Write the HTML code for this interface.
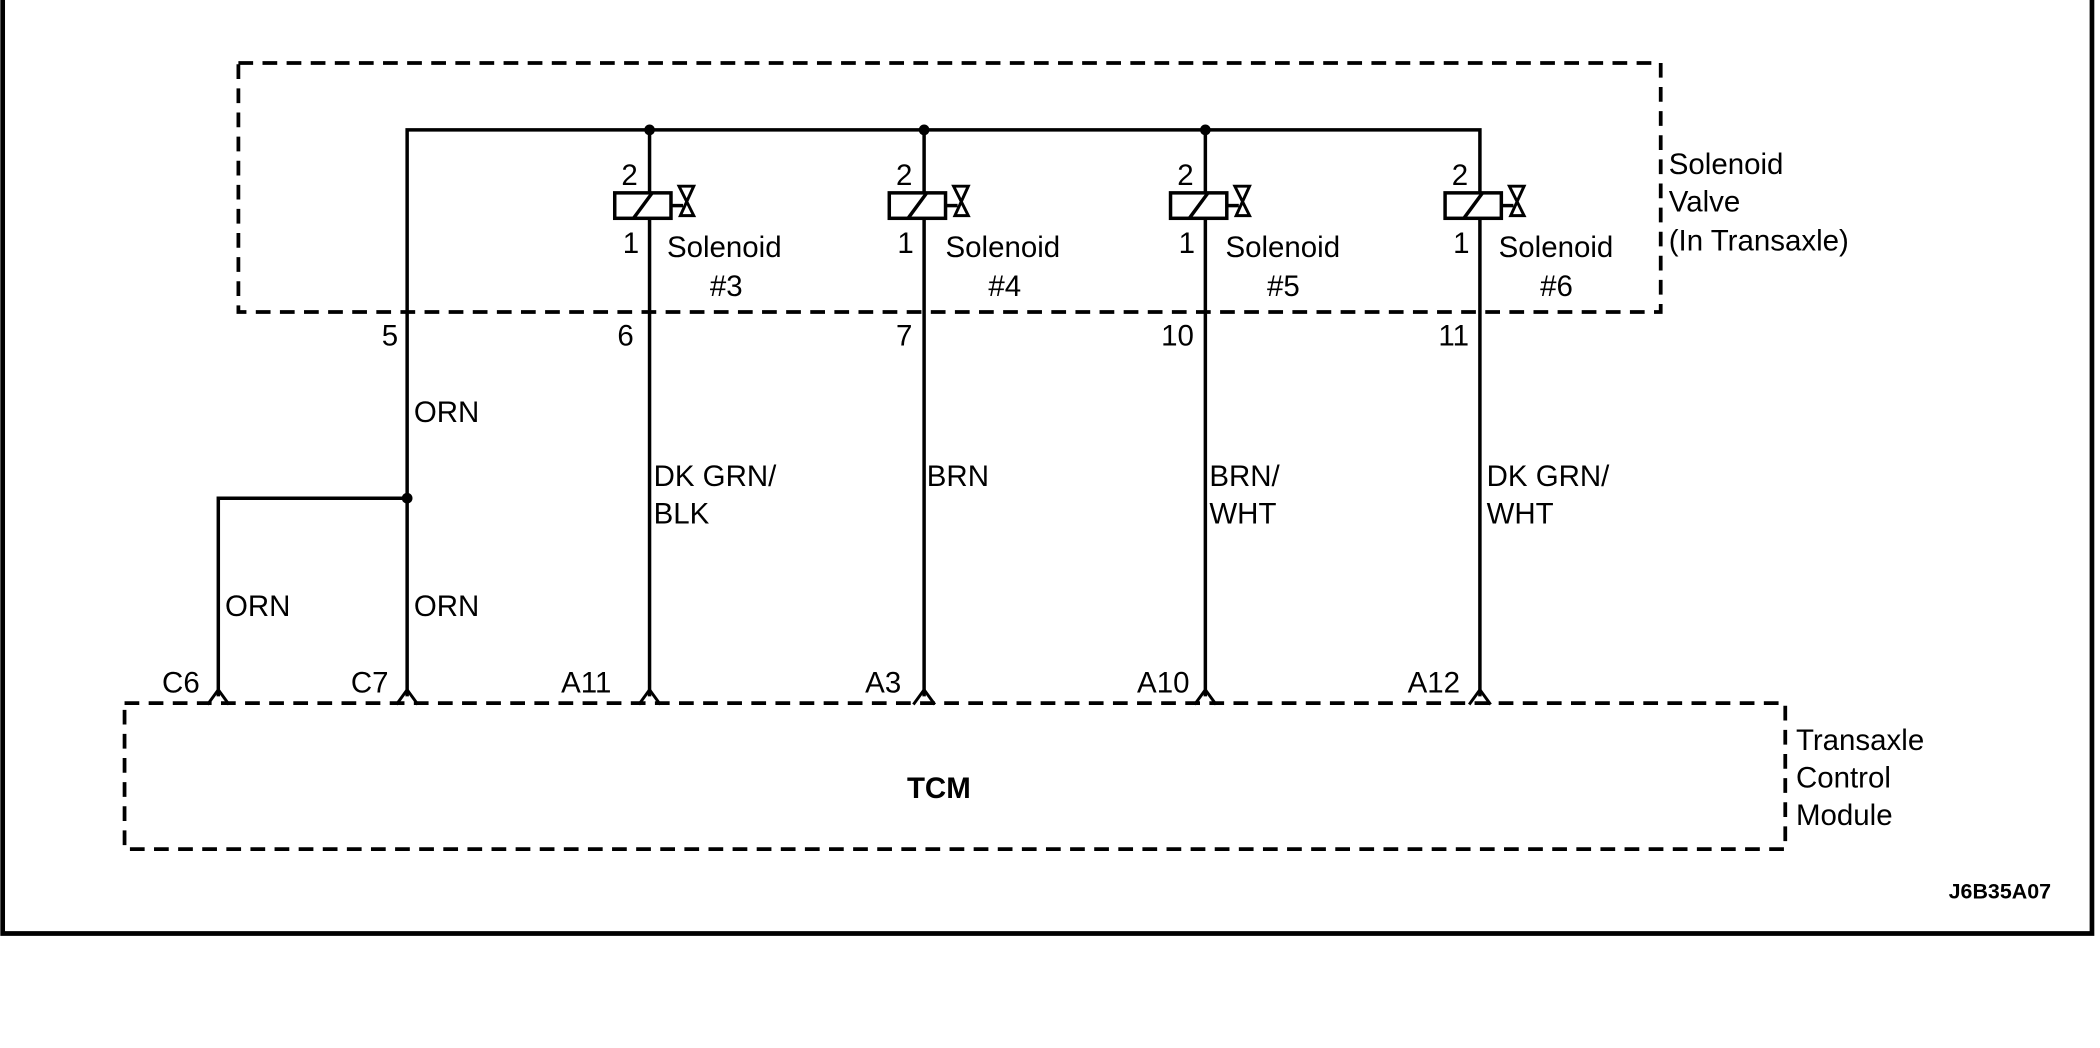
<!DOCTYPE html>
<html><head><style>html,body{margin:0;padding:0;background:#fff}svg{display:block}</style></head>
<body>
<svg width="2100" height="1048" viewBox="0 0 1568 782.5" xmlns="http://www.w3.org/2000/svg" font-family="Liberation Sans, sans-serif" font-size="22" fill="#000">
<rect width="1568" height="782.5" fill="#fff"/>
<polyline points="2,0 2,697 1562,697 1562,0" fill="none" stroke="#000" stroke-width="3.5"/>
<rect x="178" y="47" width="1062" height="186" fill="none" stroke="#000" stroke-width="2.8" stroke-dasharray="11,7"/>
<rect x="93" y="525" width="1240" height="109" fill="none" stroke="#000" stroke-width="2.8" stroke-dasharray="11,7"/>
<g stroke="#000" stroke-width="2.6" fill="none">
<polyline points="304,520 304,97 1105,97 1105,520"/>
<line x1="485" y1="97" x2="485" y2="520"/><line x1="690" y1="97" x2="690" y2="520"/><line x1="900" y1="97" x2="900" y2="520"/>
<polyline points="304,372 163,372 163,520"/>
</g>
<g fill="#000"><circle cx="485" cy="97" r="4"/><circle cx="690" cy="97" r="4"/><circle cx="900" cy="97" r="4"/><circle cx="304" cy="372" r="4"/></g>
<g id="sol" stroke="#000" stroke-width="2.6" fill="#fff">
<rect x="459" y="144" width="42" height="19"/>
<line x1="473" y1="163" x2="487" y2="144" fill="none"/>
<line x1="501" y1="153.5" x2="510" y2="153.5"/>
<path d="M507,139 L518,139 L508,161 L518,161 Z" fill="none" stroke-width="2.2"/>
</g>
<use href="#sol" x="205"/><use href="#sol" x="415"/><use href="#sol" x="620"/>
<g stroke="#000" stroke-width="2.2" fill="none">
<polyline points="155,526 163,515 171,526"/><polyline points="296,526 304,515 312,526"/><polyline points="477,526 485,515 493,526"/><polyline points="682,526 690,515 698,526"/><polyline points="892,526 900,515 908,526"/><polyline points="1097,526 1105,515 1113,526"/>
</g>
<text x="464" y="138">2</text><text x="669" y="138">2</text><text x="879" y="138">2</text><text x="1084" y="138">2</text>
<text x="465" y="189">1</text><text x="670" y="189">1</text><text x="880" y="189">1</text><text x="1085" y="189">1</text>
<text x="498" y="192">Solenoid</text><text x="530" y="221">#3</text>
<text x="706" y="192">Solenoid</text><text x="738" y="221">#4</text>
<text x="915" y="192">Solenoid</text><text x="946" y="221">#5</text>
<text x="1119" y="192">Solenoid</text><text x="1150" y="221">#6</text>
<text x="1246" y="130">Solenoid</text><text x="1246" y="158">Valve</text><text x="1246" y="187">(In Transaxle)</text>
<text x="285" y="258">5</text><text x="461" y="258">6</text><text x="669" y="258">7</text><text x="867" y="258">10</text><text x="1074" y="258">11</text>
<text x="309" y="315">ORN</text>
<text x="488" y="363">DK GRN/</text><text x="488" y="391">BLK</text>
<text x="692" y="363">BRN</text>
<text x="903" y="363">BRN/</text><text x="903" y="391">WHT</text>
<text x="1110" y="363">DK GRN/</text><text x="1110" y="391">WHT</text>
<text x="168" y="460">ORN</text><text x="309" y="460">ORN</text>
<text x="121" y="517">C6</text><text x="262" y="517">C7</text><text x="419" y="517">A11</text><text x="646" y="517">A3</text><text x="849" y="517">A10</text><text x="1051" y="517">A12</text>
<text x="701" y="596" font-weight="bold" text-anchor="middle">TCM</text>
<text x="1341" y="560">Transaxle</text><text x="1341" y="588">Control</text><text x="1341" y="616">Module</text>
<text x="1455" y="671" font-size="16" font-weight="bold">J6B35A07</text>
</svg>
</body></html>
